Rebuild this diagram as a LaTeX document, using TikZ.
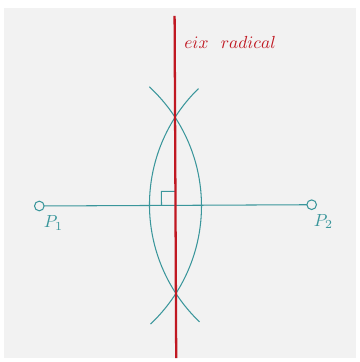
\documentclass[tikz,border=0pt]{standalone}
\begin{document}
\begin{tikzpicture}[x=0.5714pt,y=0.5714pt,
  tealc/.style={draw=tealline,line width=0.6pt},
  radline/.style={draw=radred,line width=1.3pt},
  pt/.style={circle,draw=tealline,line width=0.6pt,fill=bggray,inner sep=0pt,minimum size=5.5pt},
  lbl/.style={text=tealline,inner sep=0pt}]
\definecolor{tealline}{RGB}{58,150,155}
\definecolor{radred}{RGB}{192,24,34}
\definecolor{bggray}{RGB}{242,242,242}
\useasboundingbox (0,0) rectangle (360,362);
\fill[white] (0,0) rectangle (360,362);
\fill[bggray] (4,4) rectangle (356,354);
\begin{scope}[shift={(39.3,156)},rotate=0.27]
  \coordinate (P1c) at (0,0);
  \coordinate (P2c) at (272.4,0);
  \coordinate (M) at (136.2,0);
  \coordinate (Rtop) at (136.2,189.4);
  \coordinate (Rbot) at (136.2,-152.7);
  % arcs
  \draw[tealc] (P1c) ++(-47:162.2) arc[start angle=-47,end angle=47,radius=162.2];
  \draw[tealc] (P2c) ++(134:162.2) arc[start angle=134,end angle=226,radius=162.2];
  % segment
  \draw[tealc] (P1c) -- (P2c);
  % right angle mark
  \coordinate (Q1) at (122.2,0);
  \coordinate (Q2) at (122.2,14);
  \coordinate (Q3) at (136.2,14);
  \draw[tealc] (Q1) -- (Q2) -- (Q3);
  % radical axis
  \draw[radline] (Rtop) -- (Rbot);
  \node[pt] (P1) at (P1c) {};
  \node[pt] (P2) at (P2c) {};
  \node[lbl] (L1) at (14,-17) {$P_1$};
  \node[lbl] (L2) at (284,-17) {$P_2$};
\end{scope}
\node[anchor=west,text=radred,inner sep=0pt] (eix) at (184,320) {$eix\hspace{7pt}radical$};
\end{tikzpicture}
\end{document}
